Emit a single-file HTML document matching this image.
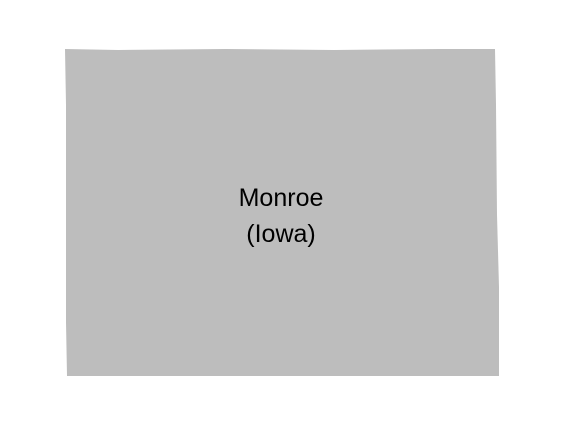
<!DOCTYPE html>
<html><head><style>html,body{margin:0;padding:0;background:#fff;}</style></head>
<body>
<svg width="564" height="425" xmlns="http://www.w3.org/2000/svg">
<polygon points="65,49 118,50 226,49 334,50 441,49 495,49 496,105 497,215 499,287 499,376 67,376 66,322 66,105" fill="#bdbdbd"/>
<text x="281" y="206" font-family="Liberation Sans, sans-serif" font-size="25" text-anchor="middle" fill="#000">Monroe</text>
<text x="281" y="242" font-family="Liberation Sans, sans-serif" font-size="25" text-anchor="middle" fill="#000">(Iowa)</text>
</svg>
</body></html>
